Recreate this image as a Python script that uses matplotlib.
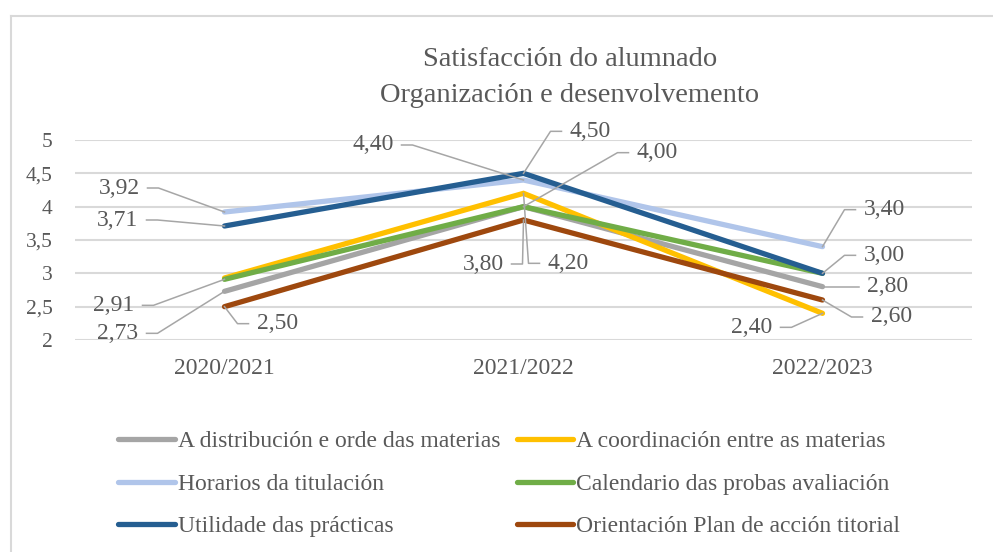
import matplotlib
matplotlib.use("Agg")
import matplotlib.pyplot as plt
from matplotlib.lines import Line2D

W, H, DPI = 993, 552, 100

CATEGORIES = ["2020/2021", "2021/2022", "2022/2023"]

SERIES_NAMES = [
    "A distribución e orde das materias",
    "A coordinación entre as materias",
    "Horarios da titulación",
    "Calendario das probas avaliación",
    "Utilidade das prácticas",
    "Orientación Plan de acción titorial",
]
distribucion = [2.73, 4.00, 2.80]
coordinacion = [2.93, 4.20, 2.40]
horarios = [3.92, 4.40, 3.40]
calendario = [2.91, 4.00, 3.00]
utilidade = [3.71, 4.50, 3.00]
orientacion = [2.50, 3.80, 2.60]
SERIES_VALUES = [distribucion, coordinacion, horarios, calendario, utilidade, orientacion]

COLORS = ["#A5A5A5", "#FFC000", "#B0C5EA", "#70AD47", "#255E91", "#9E480E"]

INK = "#595959"
GRID = "#D9D9D9"
LEADER = "#A6A6A6"
FONT = "Liberation Serif"

# (series, category, knee dx px, knee dy px, side)  - leader line layout
LABEL_LAYOUT = [
    (2, 0, -66, 24, -1),
    (4, 0, -67, 6, -1),
    (3, 0, -71, -26, -1),
    (0, 0, -67, -42, -1),
    (5, 0, 13, -17, 1),
    (2, 1, -111, 35, -1),
    (4, 1, 27, 42, 1),
    (3, 1, 94, 54, 1),
    (5, 1, -1, -44, -1),
    (1, 1, 5, -70, 1),
    (2, 2, 22, 37, 1),
    (4, 2, 22, 18, 1),
    (0, 2, 25, 0, 1),
    (5, 2, 29, -17, 1),
    (1, 2, -31, -14, -1),
]


def px(x, y):
    """reference pixel coords (y down) -> figure fraction"""
    return x / W, 1 - y / H


def main():
    fig = plt.figure(figsize=(W / DPI, H / DPI), dpi=DPI)
    fig.patch.set_facecolor("white")

    # chart frame (right and bottom edges fall outside the picture)
    fig.add_artist(Line2D([11 / W, 11 / W], [-0.1, 1 - 16 / H], color=GRID, lw=1.5))
    fig.add_artist(Line2D([11 / W, 1.1], [1 - 16 / H, 1 - 16 / H], color=GRID, lw=1.5))

    x0, y_top = px(75, 140)
    x1, y_bot = px(972, 340)
    ax = fig.add_axes([x0, y_bot, x1 - x0, y_top - y_bot])
    ax.set_xlim(-0.5, 2.5)
    ax.set_ylim(2, 5)
    for s in ax.spines.values():
        s.set_visible(False)
    ax.set_yticks([2, 2.5, 3, 3.5, 4, 4.5, 5])
    ax.set_yticklabels(["2", "2,5", "3", "3,5", "4", "4,5", "5"])
    ax.set_xticks(range(len(CATEGORIES)))
    ax.set_xticklabels(CATEGORIES)
    ax.tick_params(length=0, colors=INK)
    ax.tick_params(axis="y", pad=16, labelsize=15.5)
    ax.tick_params(axis="x", pad=13, labelsize=17)
    for lab in ax.get_xticklabels() + ax.get_yticklabels():
        lab.set_fontfamily(FONT)
    ax.grid(axis="y", color=GRID, lw=1.5)
    ax.set_axisbelow(True)

    xs = list(range(len(CATEGORIES)))
    handles = []
    for name, vals, col in zip(SERIES_NAMES, SERIES_VALUES, COLORS):
        (ln,) = ax.plot(xs, vals, color=col, lw=3.8, solid_capstyle="round",
                        solid_joinstyle="miter", label=name)
        handles.append(ln)

    fig.text(570 / W, 1 - 60 / H, "Satisfacción do alumnado", ha="center", va="center",
             fontsize=20.5, color=INK, family=FONT)
    fig.text(570 / W, 1 - 95 / H, "Organización e desenvolvemento", ha="center", va="center",
             fontsize=20.5, color=INK, family=FONT)

    # data labels with leader lines
    to_fig = fig.transFigure.inverted()
    for si, ci, dx, dy, side in LABEL_LAYOUT:
        v = SERIES_VALUES[si][ci]
        p = ax.transData.transform((ci, v))
        knee = (p[0] + dx, p[1] + dy)
        end = (knee[0] + side * 11, knee[1])
        txt = (end[0] + side * 8, knee[1])
        pts = to_fig.transform([p, knee, end])
        fig.add_artist(Line2D(pts[:, 0], pts[:, 1], color=LEADER, lw=1.1))
        tp = to_fig.transform([txt])[0]
        fig.text(tp[0], tp[1], f"{v:.2f}".replace(".", ","), ha="left" if side > 0 else "right",
                 va="center", fontsize=17, color=INK, family=FONT)

    order = [0, 2, 4, 1, 3, 5]
    leg = fig.legend([handles[i] for i in order], [SERIES_NAMES[i] for i in order],
                     ncol=2, frameon=False, loc="center left",
                     bbox_to_anchor=(118 / W, 1 - 484 / H),
                     prop={"family": FONT, "size": 17}, handlelength=2.4,
                     handletextpad=0.13, columnspacing=0.7, labelspacing=0.88,
                     borderaxespad=0, borderpad=0)
    for t in leg.get_texts():
        t.set_color(INK)

    fig.savefig("out.png", dpi=DPI)


if __name__ == "__main__":
    main()
